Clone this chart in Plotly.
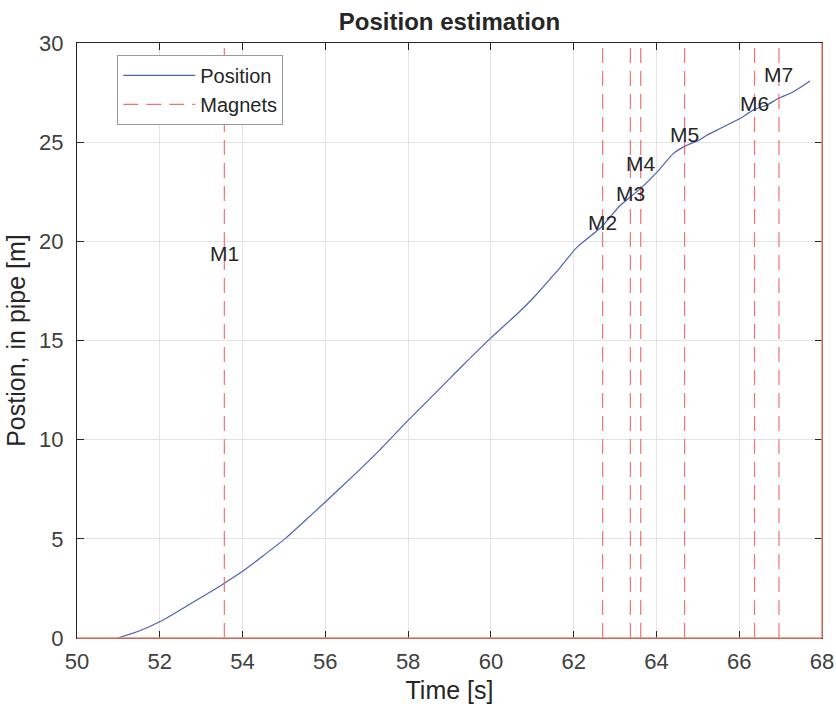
import plotly.graph_objects as go

# ---- data ----
time_s = [50.98, 51.5, 52.02, 52.8, 53.44, 54.0, 54.5, 55.05, 55.5, 56.0, 56.66, 57.3,
          58.0, 58.68, 59.3, 60.0, 60.69, 61.1, 61.5, 61.66, 62.06, 62.69, 63.11, 63.6,
          64.08, 64.4, 64.69, 65.01, 65.21, 65.53, 66.02, 66.36, 66.66, 66.94, 67.31, 67.71]
position_m = [0, 0.35, 0.84, 1.8, 2.6, 3.36, 4.15, 5.05, 5.9, 6.86, 8.15, 9.45,
              10.97, 12.4, 13.7, 15.13, 16.45, 17.32, 18.27, 18.64, 19.66, 20.76, 21.78, 22.63,
              23.64, 24.41, 24.8, 25.08, 25.34, 25.68, 26.19, 26.64, 26.86, 27.2, 27.54, 28.08]

magnet_times = [53.56, 62.70, 63.37, 63.62, 64.68, 66.37, 66.96]
magnet_labels = ["M1", "M2", "M3", "M4", "M5", "M6", "M7"]
magnet_label_y = [19.4, 20.93, 22.41, 23.9, 25.37, 26.95, 28.42]

x_range = [50, 68]
y_range = [0, 30]
x_ticks = [50, 52, 54, 56, 58, 60, 62, 64, 66, 68]
y_ticks = [0, 5, 10, 15, 20, 25, 30]

FONT = "Liberation Sans, Arial, Helvetica, sans-serif"
AX = "#262626"
EDGE = "#f2866e"

fig = go.Figure()
fig.add_trace(go.Scatter(x=time_s, y=position_m, mode="lines", name="Position",
                         line=dict(color="#4d63b6", width=1.2, shape="spline", smoothing=0.6)))

mx, my = [], []
for t in magnet_times:
    mx += [t, t, None]
    my += [y_range[0], y_range[1], None]
fig.add_trace(go.Scatter(x=mx, y=my, mode="lines", name="Magnets",
                         line=dict(color="rgba(240,90,90,0.85)", width=1.2, dash="15px,8px")))

for t, lab, ly in zip(magnet_times, magnet_labels, magnet_label_y):
    fig.add_annotation(x=t, y=ly, text=lab, showarrow=False,
                       font=dict(family=FONT, size=21, color="#262626"),
                       xanchor="center", yanchor="middle")

fig.add_shape(type="line", xref="paper", yref="paper", x0=0, x1=1, y0=0, y1=0,
              line=dict(color=EDGE, width=1.5), layer="above")
fig.add_shape(type="line", xref="paper", yref="paper", x0=1, x1=1, y0=0, y1=1,
              line=dict(color=EDGE, width=1.5), layer="above")

fig.update_layout(
    width=836, height=708,
    margin=dict(l=77, r=14, t=43, b=70),
    paper_bgcolor="white", plot_bgcolor="white",
    font=dict(family=FONT, color="#333333"),
    title=dict(text="<b>Position estimation</b>", x=0.5377, xanchor="center",
               y=0.969, yanchor="middle",
               font=dict(family=FONT, size=24, color="#262626")),
    showlegend=True,
    legend=dict(x=0.054, y=0.98, xanchor="left", yanchor="top",
                bgcolor="white", bordercolor="#9a9a9a", borderwidth=1,
                font=dict(family=FONT, size=20, color="#262626"),
                itemwidth=72, tracegroupgap=0),
    xaxis=dict(range=x_range, tickvals=x_ticks, ticks="inside", ticklen=7,
               tickcolor=AX, showline=True, linecolor=AX, linewidth=1, mirror="ticks",
               showgrid=True, gridcolor="#e3e3e3", zeroline=False, automargin=False,
               ticklabelstandoff=4,
               tickfont=dict(family=FONT, size=22, color="#404040"),
               title=dict(text="Time [s]", font=dict(family=FONT, size=25, color="#262626"),
                          standoff=8)),
    yaxis=dict(range=y_range, tickvals=y_ticks, ticks="inside", ticklen=7,
               tickcolor=AX, showline=True, linecolor=AX, linewidth=1, mirror="ticks",
               showgrid=True, gridcolor="#e3e3e3", zeroline=False, automargin=False,
               ticklabelstandoff=8,
               tickfont=dict(family=FONT, size=22, color="#404040"),
               title=dict(text="Postion, in pipe [m]",
                          font=dict(family=FONT, size=25, color="#262626"),
                          standoff=6)),
)

fig.write_html("out.html")
